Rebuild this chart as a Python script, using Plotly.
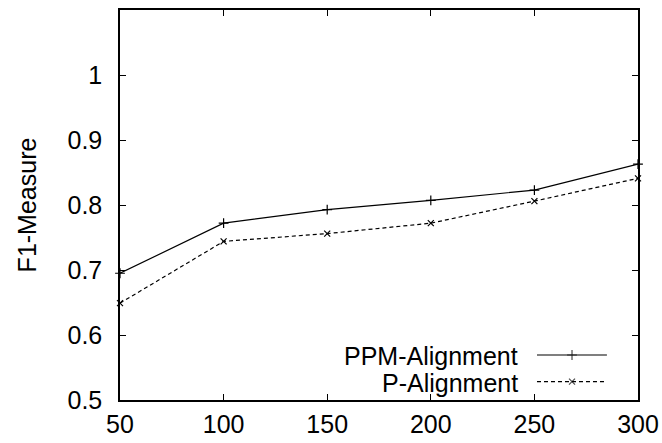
import plotly.graph_objects as go

x_vals = [50, 100, 150, 200, 250, 300]
ppm_alignment = [0.695, 0.772, 0.793, 0.807, 0.823, 0.863]
p_alignment = [0.649, 0.744, 0.756, 0.772, 0.806, 0.841]
y_ticks = [0.5, 0.6, 0.7, 0.8, 0.9, 1.0]
y_tick_labels = ["0.5", "0.6", "0.7", "0.8", "0.9", "1"]
x_ticks = [50, 100, 150, 200, 250, 300]
series_names = ["PPM-Alignment", "P-Alignment"]

FONT = "Liberation Sans, Arial, Helvetica, sans-serif"
FS = 25

fig = go.Figure()
fig.add_trace(go.Scatter(
    x=x_vals, y=ppm_alignment, mode="lines+markers", name=series_names[0],
    line=dict(color="black", width=1.2),
    marker=dict(symbol="cross-thin", size=7, line=dict(color="black", width=1.2)),
    showlegend=False, cliponaxis=False))
fig.add_trace(go.Scatter(
    x=x_vals, y=p_alignment, mode="lines+markers", name=series_names[1],
    line=dict(color="black", width=1.2, dash="4px,3px"),
    marker=dict(symbol="x-thin", size=6, line=dict(color="black", width=1.2)),
    showlegend=False, cliponaxis=False))

# legend samples (gnuplot style: text then line sample) on an overlay axis 0..1
leg_x = [0.805, 0.8726, 0.940]
leg_y = [0.1154, 0.047]
fig.add_trace(go.Scatter(
    x=leg_x, y=[leg_y[0]] * 3, xaxis="x2", yaxis="y2", mode="lines+markers",
    line=dict(color="black", width=1.2),
    marker=dict(symbol="cross-thin", size=[0, 7, 0], line=dict(color="black", width=1.2)),
    showlegend=False, hoverinfo="skip"))
fig.add_trace(go.Scatter(
    x=leg_x, y=[leg_y[1]] * 3, xaxis="x2", yaxis="y2", mode="lines+markers",
    line=dict(color="black", width=1.2, dash="4px,3px"),
    marker=dict(symbol="x-thin", size=[0, 6, 0], line=dict(color="black", width=1.2)),
    showlegend=False, hoverinfo="skip"))

for name, yy in zip(series_names, [0.112, 0.044]):
    fig.add_annotation(x=0.772, y=yy, xref="paper", yref="paper", text=name,
                       showarrow=False, xanchor="right", yanchor="middle",
                       font=dict(family=FONT, size=25, color="black"))

fig.update_layout(
    width=662, height=443,
    margin=dict(l=120, r=24, t=10, b=43),
    paper_bgcolor="white", plot_bgcolor="white",
    font=dict(family=FONT, size=FS, color="black"),
    xaxis=dict(range=[50, 300], tickvals=x_ticks, ticks="inside", ticklen=6,
               tickwidth=1, tickcolor="black", mirror="ticks", showline=True,
               linecolor="black", linewidth=1.5, showgrid=False, zeroline=False,
               tickfont=dict(size=FS), ticklabelstandoff=1, automargin=False),
    yaxis=dict(range=[0.5, 1.1], tickvals=y_ticks, ticktext=y_tick_labels,
               ticks="inside", ticklen=6, tickwidth=1, tickcolor="black",
               mirror="ticks", showline=True, linecolor="black", linewidth=1.5,
               showgrid=False, zeroline=False, tickfont=dict(size=FS),
               ticklabelstandoff=11, automargin=False,
               title=dict(text="F1-Measure", font=dict(size=FS), standoff=24)),
    xaxis2=dict(range=[0, 1], overlaying="x", visible=False, fixedrange=True),
    yaxis2=dict(range=[0, 1], overlaying="y", visible=False, fixedrange=True),
)

fig.write_html("out.html")
